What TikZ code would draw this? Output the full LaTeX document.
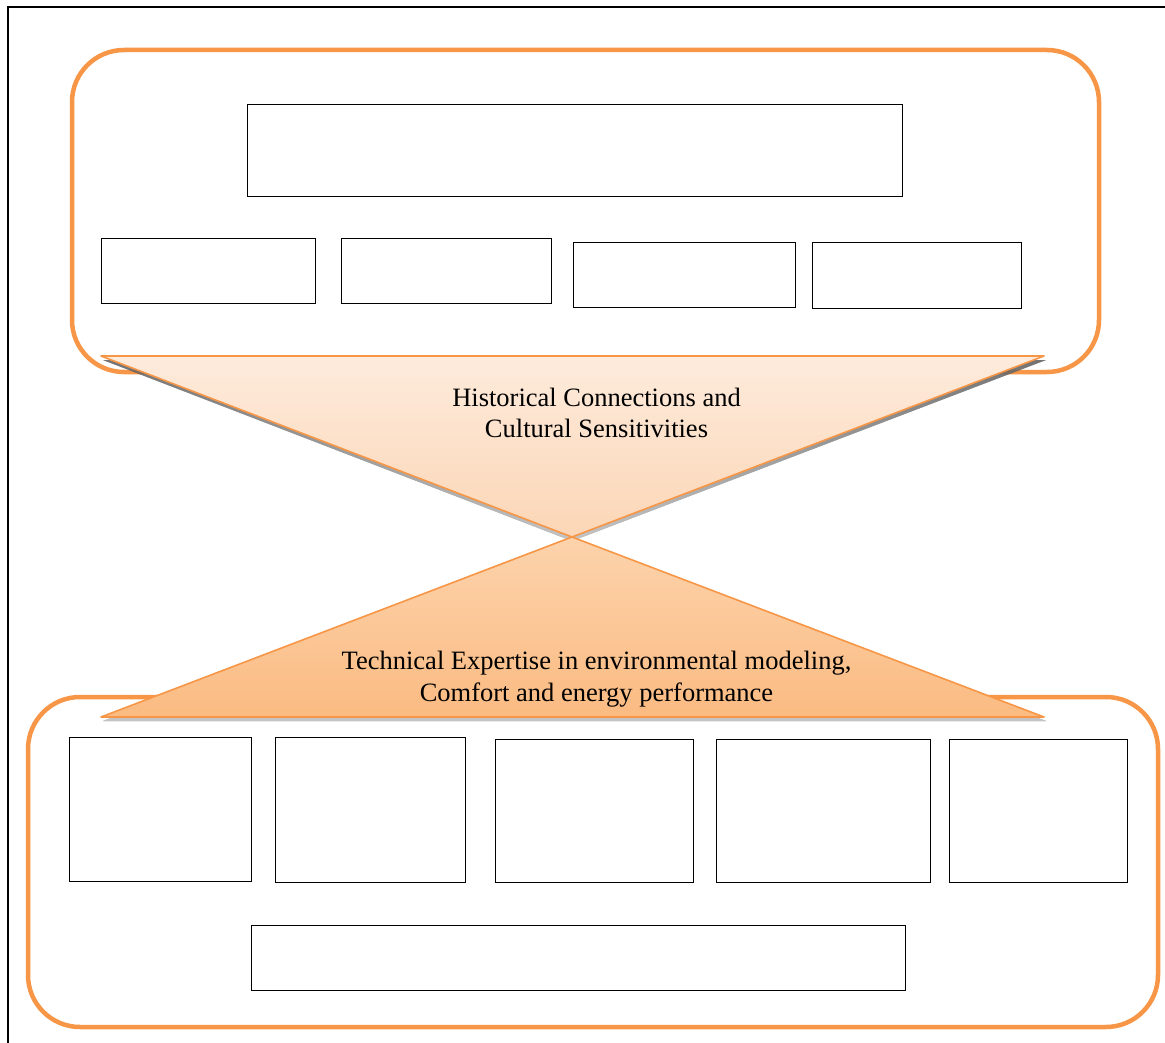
\documentclass[tikz,border=0pt]{standalone}
\usepackage{fontspec}
\setmainfont{Liberation Serif}
\usetikzlibrary{calc}
\definecolor{accent}{HTML}{F79646}
\definecolor{topA}{HTML}{FDEBDC}
\definecolor{topB}{HTML}{FCD6B6}
\definecolor{botA}{HTML}{FCD3AC}
\definecolor{botB}{HTML}{FBBB82}
\definecolor{shade}{HTML}{707070}
\tikzset{
  group/.style={draw=accent, line width=4.5pt, rounded corners=52pt},
  cell/.style={draw=black, line width=0.9pt, fill=white},
  funnel/.style={line join=round},
  caption/.style={font=\fontsize{26.5}{31.5}\selectfont, align=center, inner sep=0pt, text=black}
}
\begin{document}
\begin{tikzpicture}[x=1pt,y=-1pt]
\useasboundingbox (0,0) rectangle (1165,1043);
\fill[white] (0,0) rectangle (1165,1043);
% outer frame
\draw[line width=1.6pt, black] (8,7) rectangle (1180,1060);
% group frames
\draw[group] (72,50) rectangle (1099,372);
\draw[group] (28,697) rectangle (1158,1027);
% top cells
\node[cell, minimum width=655pt, minimum height=92pt, anchor=north west] (t0) at (247,104) {};
\node[cell, minimum width=214pt, minimum height=65pt, anchor=north west] (t1) at (101,238) {};
\node[cell, minimum width=210pt, minimum height=65pt, anchor=north west] (t2) at (341,238) {};
\node[cell, minimum width=222pt, minimum height=65pt, anchor=north west] (t3) at (573,242) {};
\node[cell, minimum width=209pt, minimum height=66pt, anchor=north west] (t4) at (812,242) {};
% bottom cells
\node[cell, minimum width=182pt, minimum height=144pt, anchor=north west] (b1) at (69,737) {};
\node[cell, minimum width=190pt, minimum height=145pt, anchor=north west] (b2) at (275,737) {};
\node[cell, minimum width=198pt, minimum height=143pt, anchor=north west] (b3) at (495,739) {};
\node[cell, minimum width=214pt, minimum height=143pt, anchor=north west] (b4) at (716,739) {};
\node[cell, minimum width=178pt, minimum height=143pt, anchor=north west] (b5) at (949,739) {};
\node[cell, minimum width=654pt, minimum height=65pt, anchor=north west] (b6) at (251,925) {};
% funnel points
\coordinate (ul) at (101,356);
\coordinate (ur) at (1044,356);
\coordinate (mid) at (572,537);
\coordinate (ll) at (101,717);
\coordinate (lr) at (1044,717);
% shadows (only outside the funnel shapes)
\fill[shade, fill opacity=0.65, even odd rule] ($(ul)+(2,4)$) -- ($(ur)+(2,4)$) -- ($(mid)+(0,4)$) -- cycle
  (ul) -- (ur) -- (mid) -- cycle;
\fill[shade, fill opacity=0.65, even odd rule] ($(ll)+(2,4)$) -- ($(lr)+(2,4)$) -- ($(mid)+(0,4)$) -- cycle
  (ll) -- (lr) -- (mid) -- cycle;
% funnels
\path[funnel, top color=topA, bottom color=topB] (ul) -- (ur) -- (mid) -- cycle;
\draw[accent, line width=1.6pt, line join=round] (ul) -- (ur) -- (mid) -- cycle;
\path[funnel, top color=botA, bottom color=botB] (ll) -- (mid) -- (lr) -- cycle;
\draw[accent, line width=1.6pt, line join=round] (ll) -- (mid) -- (lr) -- cycle;
% captions
\node[caption] (c1) at (596.5,413) {Historical Connections and\\Cultural Sensitivities};
\node[caption] (c2) at (596.5,679) {Technical Expertise in environmental modeling,\\Comfort and energy performance};
\end{tikzpicture}
\end{document}
